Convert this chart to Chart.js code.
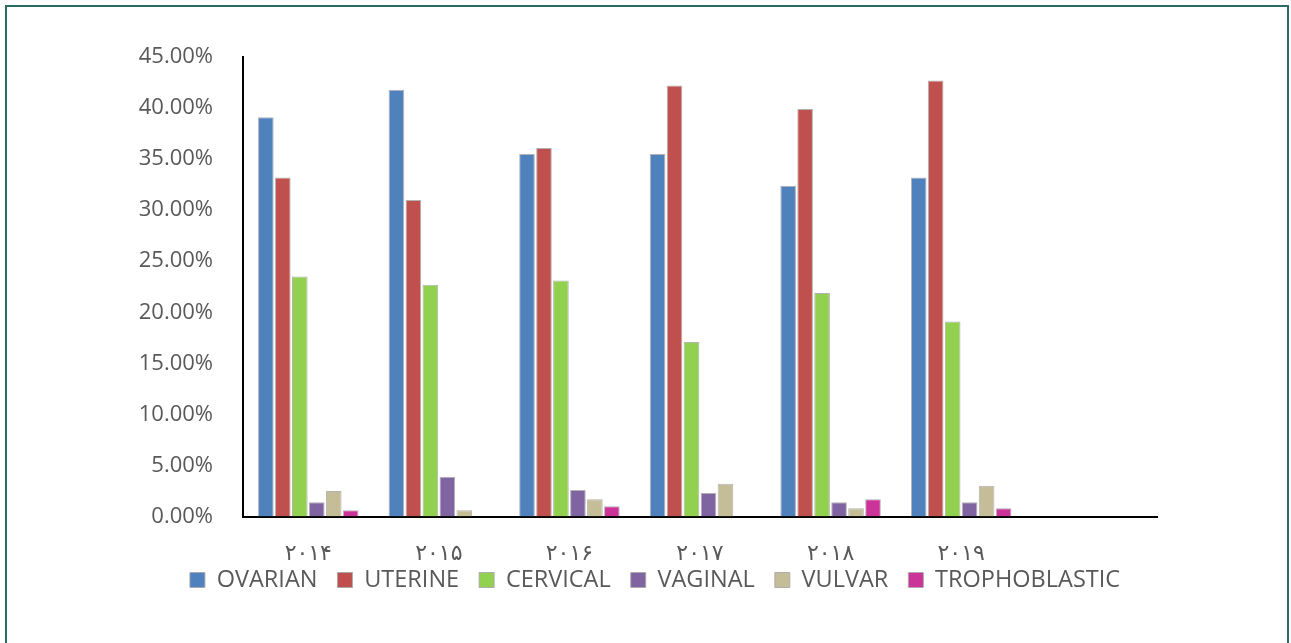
<!DOCTYPE html>
<html>
<head>
<meta charset="utf-8">
<script src="https://cdn.jsdelivr.net/npm/chart.js@4.4.1/dist/chart.umd.min.js"></script>
<style>
  html, body { margin: 0; padding: 0; background: #fff; overflow: hidden; }
  #wrap { position: absolute; left: 0; top: 0; width: 1291px; height: 643px; }
  #frame { position: absolute; left: 5px; top: 5px; width: 1280px; height: 700px; border: 2px solid #2d6b6b; pointer-events: none; }
</style>
</head>
<body>
<div id="wrap"><canvas id="chart" width="1291" height="643"></canvas></div>
<div id="frame"></div>
<script>
// years in Persian digits, last category left empty as in the source chart
const years = ['۲۰۱۴', '۲۰۱۵', '۲۰۱۶', '۲۰۱۷', '۲۰۱۸', '۲۰۱۹', ''];

const ovarian = [39.1, 41.8, 35.5, 35.5, 32.4, 33.2];
const uterine = [33.2, 31.0, 36.1, 42.2, 39.9, 42.7];
const cervical = [23.5, 22.7, 23.1, 17.1, 21.9, 19.1];
const vaginal = [1.4, 3.9, 2.6, 2.3, 1.4, 1.4];
const vulvar = [2.5, 0.6, 1.7, 3.2, 0.8, 3.0];
const trophoblastic = [0.6, 0, 1.0, 0, 1.7, 0.8];

const yTicks = [0, 5, 10, 15, 20, 25, 30, 35, 40, 45];

const grey = '#595959';

function series(label, data, color) {
    return {
        label: label,
        data: data,
        backgroundColor: color,
        borderColor: 'rgba(170,170,170,0.9)',
        borderWidth: 1,
        barPercentage: 0.92,
        categoryPercentage: 0.78
    };
}

// wide letter spacing on the year labels
const spacedLabels = {
    id: 'spacedLabels',
    beforeDraw(chart) {
        const sc = chart.scales.x;
        if (sc && !sc._spaced) {
            const orig = sc.drawLabels;
            sc.drawLabels = function(area) {
                this.ctx.save();
                this.ctx.letterSpacing = '1px';
                orig.call(this, area);
                this.ctx.restore();
            };
            sc._spaced = true;
        }
    }
};

// legend sits a bit off the plot centre in the original
const moveLegend = {
    id: 'moveLegend',
    afterLayout(chart) {
        const lg = chart.legend;
        const dx = 655 - (lg.left + lg.right) / 2;
        const dy = 575 - (lg.top + lg.bottom) / 2;
        lg.left += dx; lg.right += dx;
        lg.top += dy; lg.bottom += dy;
    }
};

const ctx = document.getElementById('chart').getContext('2d');
new Chart(ctx, {
    type: 'bar',
    data: {
        labels: years,
        datasets: [
            series('OVARIAN', ovarian, '#4f81bd'),
            series('UTERINE', uterine, '#c0504d'),
            series('CERVICAL', cervical, '#92d050'),
            series('VAGINAL', vaginal, '#8064a2'),
            series('VULVAR', vulvar, '#c4bd97'),
            series('TROPHOBLASTIC', trophoblastic, '#cc3399')
        ]
    },
    options: {
        responsive: false,
        animation: false,
        layout: { padding: { left: 20, right: 134, top: 57, bottom: 27 } },
        plugins: {
            tooltip: { enabled: false },
            legend: {
                position: 'bottom',
                labels: {
                    boxWidth: 15,
                    boxHeight: 15,
                    padding: 20,
                    color: grey,
                    font: { family: 'Open Sans', size: 23.5 }
                }
            }
        },
        scales: {
            x: {
                grid: { display: false },
                border: { display: true, color: '#000', width: 2 },
                ticks: {
                    color: grey,
                    padding: 17,
                    maxRotation: 0,
                    autoSkip: false,
                    font: { family: 'DejaVu Sans', size: 22 }
                },
                afterFit(scale) { scale.height = 46; }
            },
            y: {
                min: 0,
                max: 45,
                afterBuildTicks(scale) { scale.ticks = yTicks.map(v => ({ value: v })); },
                grid: { display: false },
                border: { display: true, color: '#000', width: 2 },
                ticks: {
                    color: grey,
                    padding: 22,
                    font: { family: 'Open Sans', size: 22 },
                    callback: v => v.toFixed(2) + '%'
                },
                afterFit(scale) { scale.width = 223; }
            }
        }
    },
    plugins: [spacedLabels, moveLegend]
});
</script>
</body>
</html>
